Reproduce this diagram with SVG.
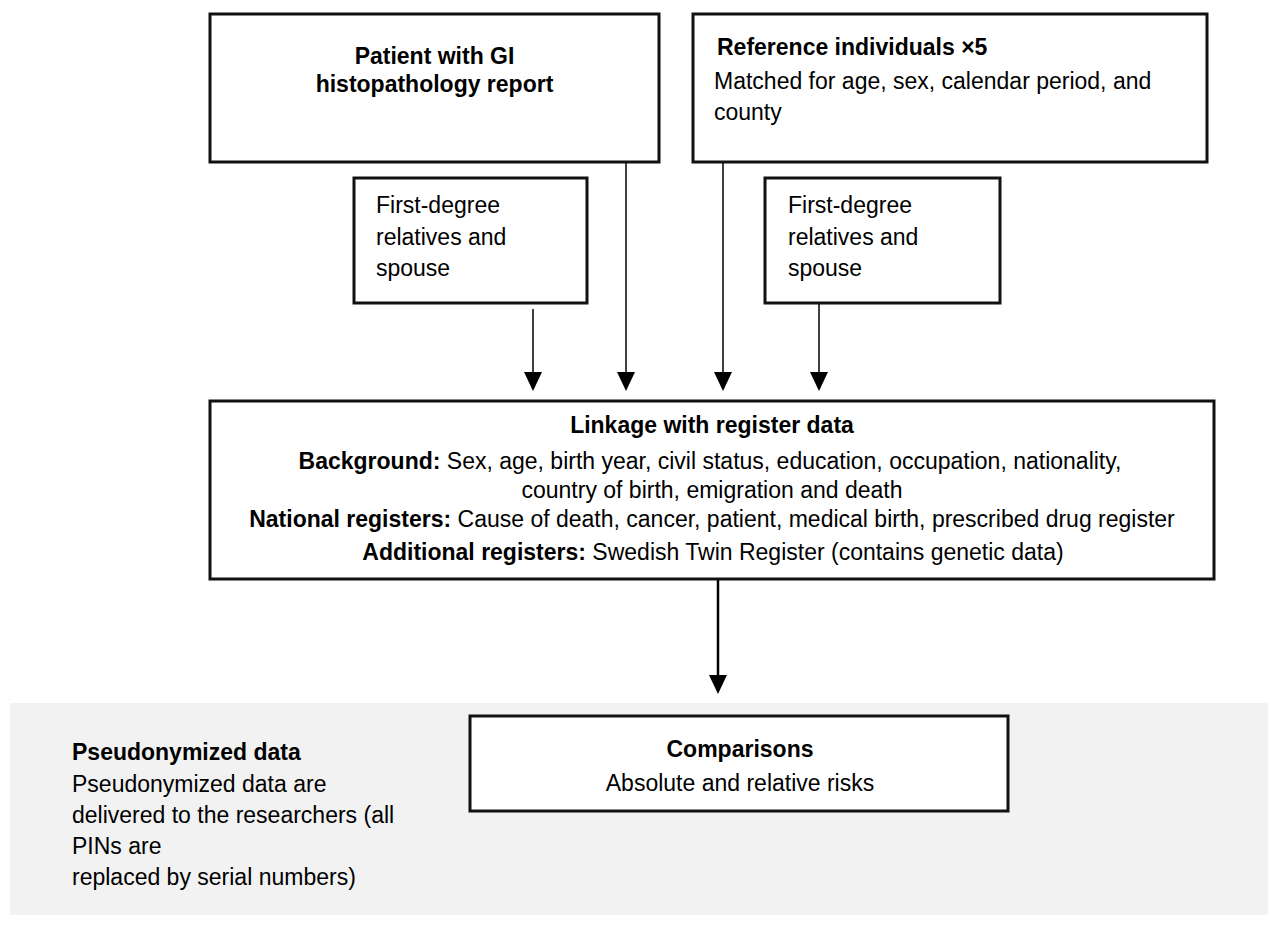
<svg xmlns="http://www.w3.org/2000/svg" width="1270" height="930" viewBox="0 0 1270 930">
<style>
  text { font-family: "Liberation Sans", Arial, Helvetica, sans-serif; font-size: 23px; fill: #000; }
  .b { font-weight: bold; }
  .box { fill: #fff; stroke: #111; stroke-width: 3; }
  .c { text-anchor: middle; }
  .ln { stroke: #000; stroke-width: 1.5; fill: none; }
  .lnb { stroke: #000; stroke-width: 2.5; fill: none; }
</style>
<defs>
  <marker id="ah" markerUnits="userSpaceOnUse" markerWidth="20" markerHeight="20" refX="0" refY="9" orient="auto">
    <path d="M0,0 L19,9 L0,18 z" fill="#000"/>
  </marker>
</defs>
<rect x="0" y="0" width="1270" height="930" fill="#fff"/>
<rect id="pseudo-bg" x="10" y="703" width="1258" height="212" fill="#f2f2f2"/>

<g id="patient">
  <rect class="box" x="210" y="14" width="449" height="148"/>
  <text class="b c" x="434.5" y="64">Patient with GI</text>
  <text class="b c" x="434.5" y="92">histopathology report</text>
</g>
<g id="reference">
  <rect class="box" x="693" y="14" width="514" height="148"/>
  <text class="b" x="717" y="55">Reference individuals ×5</text>
  <text x="714" y="89">Matched for age, sex, calendar period, and</text>
  <text x="714" y="120">county</text>
</g>
<g id="relatives-patient">
  <rect class="box" x="354" y="178" width="233" height="125"/>
  <text x="376" y="213">First-degree</text>
  <text x="376" y="245">relatives and</text>
  <text x="376" y="276">spouse</text>
</g>
<g id="relatives-reference">
  <rect class="box" x="765" y="178" width="235" height="125"/>
  <text x="788" y="213">First-degree</text>
  <text x="788" y="245">relatives and</text>
  <text x="788" y="276">spouse</text>
</g>
<g id="linkage">
  <rect class="box" x="210" y="401" width="1004" height="178"/>
  <text class="b c" x="712" y="433">Linkage with register data</text>
  <text class="c" x="710" y="469"><tspan class="b">Background:</tspan> Sex, age, birth year, civil status, education, occupation, nationality,</text>
  <text class="c" x="712" y="498">country of birth, emigration and death</text>
  <text class="c" x="712" y="527"><tspan class="b">National registers:</tspan> Cause of death, cancer, patient, medical birth, prescribed drug register</text>
  <text class="c" x="713" y="560"><tspan class="b">Additional registers:</tspan> Swedish Twin Register (contains genetic data)</text>
</g>
<g id="comparisons">
  <rect class="box" x="470" y="716" width="538" height="95"/>
  <text class="b c" x="740" y="757">Comparisons</text>
  <text class="c" x="740" y="791">Absolute and relative risks</text>
</g>
<g id="pseudonymized">
  <text class="b" x="72" y="760">Pseudonymized data</text>
  <text x="72" y="792">Pseudonymized data are</text>
  <text x="72" y="823">delivered to the researchers (all</text>
  <text x="72" y="854">PINs are</text>
  <text x="72" y="885">replaced by serial numbers)</text>
</g>
<g id="connectors">
  <line class="ln" x1="533" y1="309" x2="533" y2="372" marker-end="url(#ah)"/>
  <line class="ln" x1="626" y1="163" x2="626" y2="372" marker-end="url(#ah)"/>
  <line class="ln" x1="723" y1="163" x2="723" y2="372" marker-end="url(#ah)"/>
  <line class="ln" x1="819" y1="304" x2="819" y2="372" marker-end="url(#ah)"/>
  <line class="lnb" x1="718" y1="580" x2="718" y2="675" marker-end="url(#ah)"/>
</g>
</svg>
